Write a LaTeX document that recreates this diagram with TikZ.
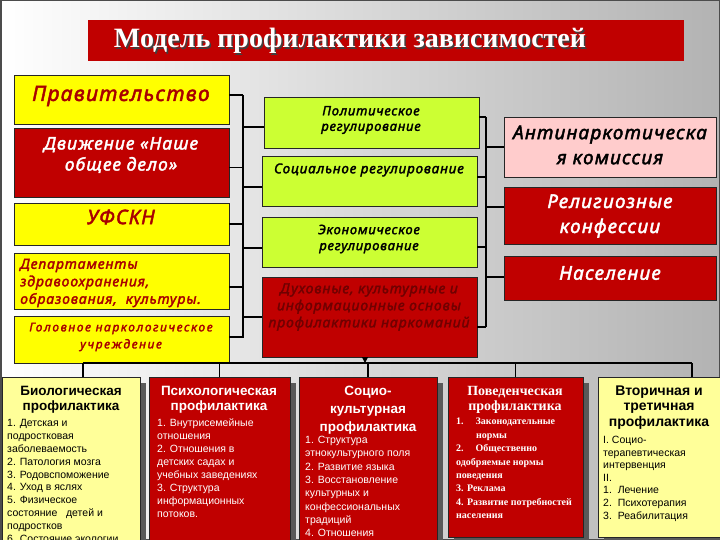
\documentclass[tikz,border=0pt]{standalone}
\usepackage{fontspec}
\setmainfont{Liberation Sans}
\newfontfamily\notobi{Noto Sans}[FakeBold=2.2, LetterSpace=6]
\newfontfamily\notobiw{Noto Sans}[FakeBold=2.2, LetterSpace=13]
\newfontfamily\tms{Liberation Serif}
\usetikzlibrary{arrows.meta}
\definecolor{redbox}{HTML}{C00000}
\definecolor{yel}{HTML}{FFFF00}
\definecolor{lime}{HTML}{CCFF33}
\definecolor{pinkbox}{HTML}{FFCCCC}
\definecolor{ltyel}{HTML}{FFFF99}
\definecolor{txtred}{HTML}{A80000}
\definecolor{darkred}{HTML}{700000}
\newcommand\bi[2]{\notobi\itshape\fontsize{#1}{#2}\selectfont}
\newcommand\biw[2]{\notobiw\itshape\fontsize{#1}{#2}\selectfont}
\newcommand\mkbox[6]{\node[box,#6,minimum width={#4-#2},minimum height={#5-#3}] (#1) at ({(#2+#4)/2},{(#3+#5)/2}) {};}
\newcommand\mkshadow[4]{\fill[black!65] ({#1+6},{#2+6}) rectangle ({#3+6},{#4+6});}
\begin{document}
\begin{tikzpicture}[x=1pt,y=-1pt,
  box/.style={draw=black!85, line width=0.7pt, inner sep=0pt, rectangle},
  conn/.style={draw=black, line width=1.2pt},
  tx/.style={inner sep=0pt, align=center},
  items/.style={inner sep=0pt, align=left, anchor=north west, font=\fontsize{10.5}{12.9}\selectfont}]
\useasboundingbox (0,0) rectangle (720,540);
\shade[left color=white, right color=black!30] (0,0) rectangle (720,540);
\draw[black!70, line width=1.5pt] (0.75,0.75) rectangle (719.25,539.25);

% title
\node[fill=redbox, inner sep=0pt, minimum width=596, minimum height=41] (banner) at (386,40.5) {};
\node[tx, text=black!75, font=\tms\bfseries\fontsize{28}{32}\selectfont] (ttlshadow) at (351.5,42.5) {Модель профилактики зависимостей};
\node[tx, text=white, font=\tms\bfseries\fontsize{28}{32}\selectfont] (ttl) at (350,41) {Модель профилактики зависимостей};

% left column
\mkbox{prav}{14}{75}{229}{124}{fill=yel}
\mkbox{dvizh}{14}{128}{229}{197}{fill=redbox}
\mkbox{ufskn}{14}{203}{229}{245}{fill=yel}
\mkbox{dep}{14}{253}{229}{309}{fill=yel}
\mkbox{golov}{14}{316}{229}{363}{fill=yel}
\node[tx, text=txtred, font=\bi{21}{24}] (tprav) at (121,96) {Правительство};
\node[tx, text=white, font=\bi{17.5}{21}] (tdvizh) at (121,155) {Движение «Наше\\общее дело»};
\node[tx, text=txtred, font=\bi{20}{24}] (tufskn) at (121,217) {УФСКН};
\node[tx, text=txtred, align=left, anchor=west, font=\bi{14}{17.5}] (tdep) at (20,283) {Департаменты\\здравоохранения,\\образования,~ культуры.};
\node[tx, text=txtred, font=\biw{12}{17}] (tgolov) at (121,337) {Головное наркологическое\\учреждение};

% middle column
\mkbox{polit}{264}{97}{479}{148}{fill=lime}
\mkbox{soc}{262}{156}{477}{206}{fill=lime}
\mkbox{econ}{262}{217}{477}{267}{fill=lime}
\mkbox{duh}{262}{277}{477}{357}{fill=redbox}
\node[tx, text=black, font=\bi{13}{15.5}] (tpolit) at (371,120) {Политическое\\регулирование};
\node[tx, text=black, font=\bi{13.5}{16}] (tsoc) at (369,170) {Социальное регулирование};
\node[tx, text=black, font=\bi{13}{16}] (tecon) at (369,239) {Экономическое\\регулирование};
\node[tx, text=darkred, font=\bi{14}{17}] (tduh) at (369,307) {Духовные, культурные и\\информационные основы\\профилактики наркоманий};

% right column
\mkbox{anti}{504}{117}{716}{177}{fill=pinkbox}
\mkbox{relig}{504}{187}{716}{244}{fill=redbox}
\mkbox{nasel}{504}{256}{716}{300}{fill=redbox}
\node[tx, text=black, font=\bi{19}{25}] (tanti) at (610,145) {Антинаркотическа\\я комиссия};
\node[tx, text=white, font=\bi{19}{25}] (trelig) at (610,216) {Религиозные\\конфессии};
\node[tx, text=white, font=\bi{19}{23}] (tnasel) at (610,273) {Население};

% connectors left bus
\coordinate (bL1) at (243,95);
\coordinate (bL2) at (243,338);
\draw[conn] (bL1) -- (bL2);
\draw[conn] ([yshift=4.5pt]prav.east) -- (bL1);
\draw[conn] ([yshift=-5pt]dvizh.east) -- ++(14,0);
\draw[conn] (ufskn.east) -- ++(14,0);
\draw[conn] ([yshift=-6pt]dep.east) -- ++(14,0);
\draw[conn] ([yshift=2.5pt]golov.east) -- ++(14,0);
\draw[conn] ([yshift=-4.5pt]polit.west) -- ++(-21,0);
\draw[conn] ([yshift=-6pt]soc.west) -- ++(-19,0);
\draw[conn] ([yshift=-6pt]econ.west) -- ++(-19,0);
\draw[conn] (duh.west) -- ++(-19,0);

% connectors right bus
\coordinate (bR1) at (486,117);
\coordinate (bR2) at (486,327);
\draw[conn] (bR1) -- (bR2);
\draw[conn] ([yshift=5.5pt]polit.east) -- (bR1);
\draw[conn] ([yshift=4pt]soc.east) -- ++(9,0);
\draw[conn] ([yshift=-5pt]econ.east) -- ++(9,0);
\draw[conn] ([yshift=-10pt]duh.east) -- (bR2);
\draw[conn] (anti.west) -- ++(-18,0);
\draw[conn] ([yshift=8.5pt]relig.west) -- ++(-18,0);
\draw[conn] ([yshift=1pt]nasel.west) -- ++(-18,0);

% bottom boxes
\mkshadow{2}{377}{140}{560}
\mkshadow{149}{377}{290}{560}
\mkshadow{299}{377}{437}{560}
\mkshadow{448}{377}{583}{537}
\mkshadow{598}{377}{725}{537}
\mkbox{bio}{2}{377}{140}{560}{fill=ltyel}
\mkbox{psy}{149}{377}{290}{560}{fill=redbox}
\mkbox{socio}{299}{377}{437}{560}{fill=redbox}
\mkbox{beh}{448}{377}{583}{537}{fill=redbox}
\mkbox{vtor}{598}{377}{725}{537}{fill=ltyel}

% bottom bus and arrow
\coordinate (bb) at (365,363);
\coordinate (bbL) at (83,363);
\coordinate (bbR) at (692,363);
\draw[conn] (bbL) -- (bbR);
\draw[conn, -{Triangle[length=6pt,width=6pt]}] (duh.south -| bb) -- (bb);
\draw[conn] (bbL) -- (bio.north -| bbL);
\draw[conn] (psy.north |- bbL) -- (psy.north);
\draw[conn] (socio.north |- bbL) -- (socio.north);
\draw[conn] (beh.north |- bbL) -- (beh.north);
\draw[conn] (bbR) -- (vtor.north -| bbR);

% bottom texts
\node[tx, font=\bfseries\fontsize{13.5}{15}\selectfont, text=black] (tbio) at (71,399.5) {Биологическая\\профилактика};
\node[items, text=black] (ibio) at (7,419) {1. Детская и\\подростковая\\заболеваемость\\2. Патология мозга\\3. Родовспоможение\\4. Уход в яслях\\5. Физическое\\состояние~~ детей и\\подростков\\6. Состояние экологии};

\node[tx, font=\bfseries\fontsize{13.5}{14.5}\selectfont, text=white] (tpsy) at (219,400) {Психологическая\\профилактика};
\node[items, text=white, font=\fontsize{10.5}{13}\selectfont] (ipsy) at (157,419) {1. Внутрисемейные\\отношения\\2. Отношения в\\детских садах и\\учебных заведениях\\3. Структура\\информационных\\потоков.};

\node[tx, font=\bfseries\fontsize{13.5}{18}\selectfont, text=white] (tsocio) at (368,410) {Социо-\\культурная\\профилактика};
\node[items, text=white, font=\fontsize{10.5}{13.3}\selectfont] (isocio) at (305,436) {1. Структура\\этнокультурного поля\\2. Развитие языка\\3. Восстановление\\культурных и\\конфессиональных\\традиций\\4. Отношения};

\node[tx, font=\tms\bfseries\fontsize{14}{15}\selectfont, text=white] (tbeh) at (515,400) {Поведенческая\\профилактика};
\node[items, text=white, font=\tms\bfseries\fontsize{10}{13.4}\selectfont] (ibeh) at (456,418) {1.\hspace{12pt}Законодательные\\\hspace{20pt}нормы\\2.\hspace{12pt}Общественно\\одобряемые нормы\\поведения\\3. Реклама\\4. Развитие потребностей\\населения};

\node[tx, font=\bfseries\fontsize{14}{15.5}\selectfont, text=black] (tvtor) at (659,407.5) {Вторичная и\\третичная\\профилактика};
\node[items, text=black, font=\fontsize{10.5}{12.6}\selectfont] (ivtor) at (603,436) {I. Социо-\\терапевтическая\\интервенция\\II.\\1.~~Лечение\\2.~~Психотерапия\\3.~~Реабилитация};
\end{tikzpicture}
\end{document}
